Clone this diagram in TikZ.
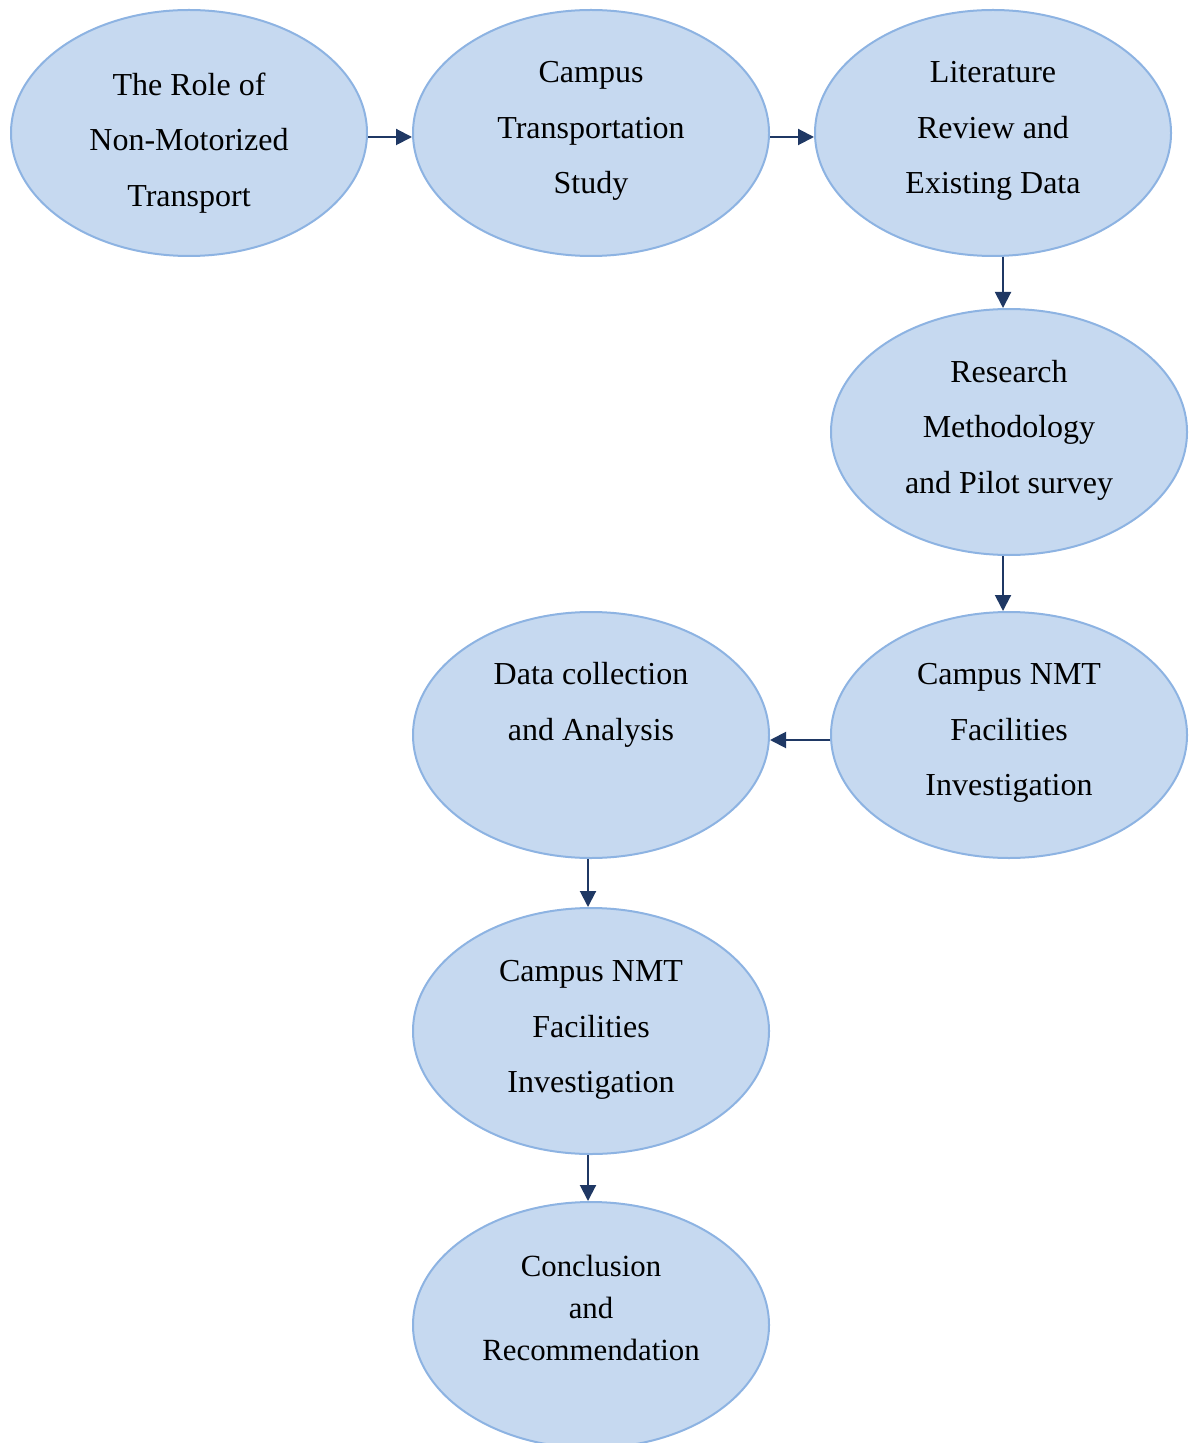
\documentclass[tikz,border=0pt]{standalone}
\usepackage{fontspec}
\setmainfont{Liberation Serif}
\usetikzlibrary{shapes.geometric,arrows.meta}
\definecolor{stagefill}{HTML}{C6D9F0}
\definecolor{stageline}{HTML}{8DB3E2}
\definecolor{arrowblue}{HTML}{1F3864}

\begin{document}
\begin{tikzpicture}[x=0.5pt,y=-0.5pt,
	stage/.style={ellipse,draw=stageline,fill=stagefill,line width=1pt,
		minimum width=178pt,minimum height=123pt,inner sep=0pt},
	stagetext/.style={align=center,inner sep=0pt,font=\fontsize{16}{27.75}\selectfont},
	arr/.style={draw=arrowblue,line width=1pt,-{Triangle[length=8pt,width=8pt]}}]
					\useasboundingbox (0,0) rectangle (1191,1443);
					%STAGES
					\node[stage] (role) at (189,133) {};
					\node[stage] (campus) at (591,133) {};
					\node[stage] (lit) at (993,133) {};
					\node[stage] (method) at (1009,432) {};
					\node[stage] (nmtA) at (1009,735) {};
					\node[stage] (data) at (591,735) {};
					\node[stage] (nmtB) at (591,1031) {};
					\node[stage] (concl) at (591,1325) {};
					
					%TEXTS
					\node[stagetext] (roleT) at ([yshift=-5pt]role) {The Role of\\Non-Motorized\\Transport};
					\node[stagetext] (campusT) at ([yshift=1pt]campus) {Campus\\Transportation\\Study};
					\node[stagetext] (litT) at ([yshift=1pt]lit) {Literature\\Review and\\Existing Data};
					\node[stagetext] (methodT) at ([yshift=1pt]method) {Research\\Methodology\\and Pilot survey};
					\node[stagetext] (nmtAT) at ([yshift=1pt]nmtA) {Campus NMT\\Facilities\\Investigation};
					\node[stagetext] (dataT) at ([yshift=3pt]data) {Data collection\\and Analysis\\\mbox{}};
					\node[stagetext] (nmtBT) at ([yshift=0.5pt]nmtB) {Campus NMT\\Facilities\\Investigation};
					\node[stagetext,font=\fontsize{15.4}{21}\selectfont] (conclT) at ([yshift=8.5pt]concl) {Conclusion\\and\\Recommendation};
					
					%ARROWS
					\draw[arr] ([yshift=-2pt]role.east) -- ([yshift=-2pt]campus.west);
					\draw[arr] ([yshift=-2pt]campus.east) -- ([yshift=-2pt]lit.west);
					\draw[arr] ([xshift=-3pt]lit.south -| method.north) -- ([xshift=-3pt]method.north);
					\draw[arr] ([xshift=-3pt]method.south) -- ([xshift=-3pt]nmtA.north);
					\draw[arr] ([yshift=-2.5pt]nmtA.west) -- ([yshift=-2.5pt]data.east);
					\draw[arr] ([xshift=-1.5pt]data.south) -- ([xshift=-1.5pt]nmtB.north);
					\draw[arr] ([xshift=-1.5pt]nmtB.south) -- ([xshift=-1.5pt]concl.north);
				  \end{tikzpicture}
\end{document}
